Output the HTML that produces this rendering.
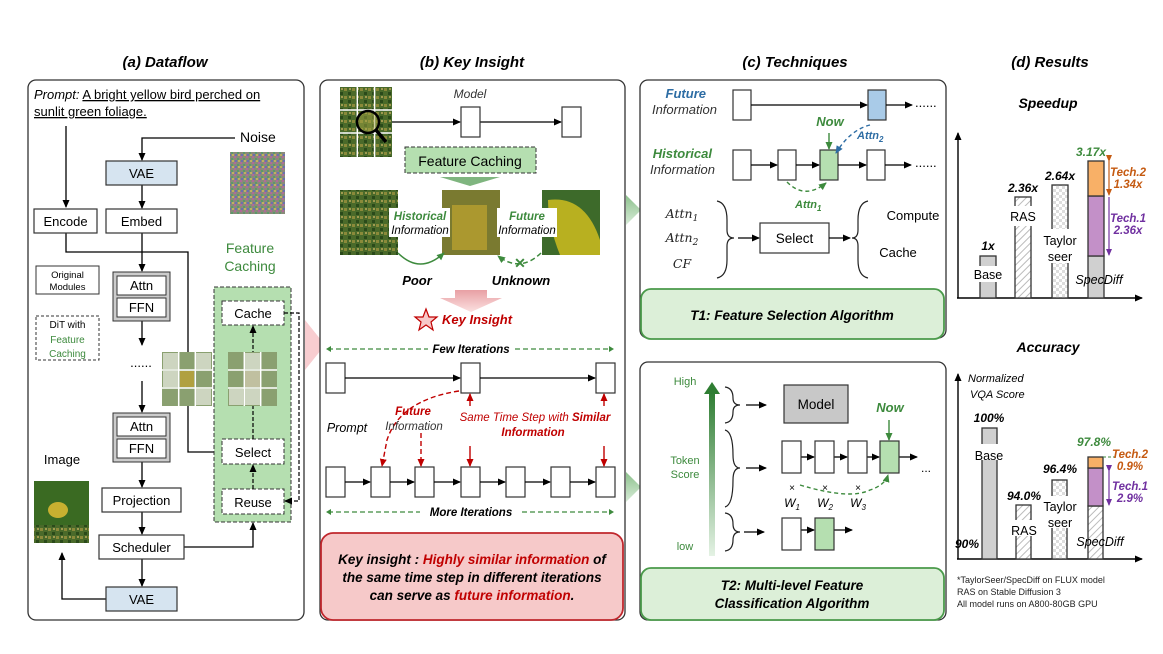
<!DOCTYPE html>
<html><head><meta charset="utf-8"><style>
body{margin:0;background:#fff}
svg{display:block;font-family:"Liberation Sans",Arial,sans-serif}
.t{font-size:13px}
.bi{font-weight:bold;font-style:italic}
</style></head><body>
<svg width="1163" height="654" viewBox="0 0 1163 654" xmlns="http://www.w3.org/2000/svg">
<defs>
<marker id="ar" markerWidth="8" markerHeight="8" refX="7" refY="4" orient="auto" markerUnits="userSpaceOnUse"><path d="M0,0.5 L8,4 L0,7.5z" fill="#000"/></marker>
<marker id="arr" markerWidth="8" markerHeight="8" refX="7" refY="4" orient="auto" markerUnits="userSpaceOnUse"><path d="M0,0.5 L8,4 L0,7.5z" fill="#c00000"/></marker>
<marker id="arg" markerWidth="8" markerHeight="8" refX="7" refY="4" orient="auto" markerUnits="userSpaceOnUse"><path d="M0,0.5 L8,4 L0,7.5z" fill="#3d8a3d"/></marker>
<marker id="arb" markerWidth="8" markerHeight="8" refX="7" refY="4" orient="auto" markerUnits="userSpaceOnUse"><path d="M0,0.5 L8,4 L0,7.5z" fill="#2e6da4"/></marker>
<marker id="arp" markerWidth="7" markerHeight="7" refX="6" refY="3.5" orient="auto" markerUnits="userSpaceOnUse"><path d="M0,0.5 L7,3.5 L0,6.5z" fill="#7030a0"/></marker>
<marker id="aro" markerWidth="7" markerHeight="7" refX="6" refY="3.5" orient="auto" markerUnits="userSpaceOnUse"><path d="M0,0.5 L7,3.5 L0,6.5z" fill="#c55a11"/></marker>
<pattern id="hatch" width="5" height="5" patternUnits="userSpaceOnUse" patternTransform="rotate(45)"><rect width="5" height="5" fill="#fff"/><line x1="0" y1="0" x2="0" y2="5" stroke="#bbb" stroke-width="2"/></pattern>
<pattern id="chk" width="6" height="6" patternUnits="userSpaceOnUse"><rect width="6" height="6" fill="#fff"/><rect width="3" height="3" fill="#ddd"/><rect x="3" y="3" width="3" height="3" fill="#ddd"/></pattern>
<pattern id="noise" width="6" height="6" patternUnits="userSpaceOnUse"><rect width="6" height="6" fill="#8a8a7a"/><rect width="2" height="2" fill="#b06a9a"/><rect x="3" y="2" width="2" height="2" fill="#5a9a6a"/><rect x="1" y="4" width="2" height="2" fill="#6a70b0"/><rect x="4" y="4" width="2" height="2" fill="#c0b060"/></pattern>
<pattern id="leaf" width="8" height="8" patternUnits="userSpaceOnUse"><rect width="8" height="8" fill="#4a6a2a"/><rect width="3" height="3" fill="#8a8a3a"/><rect x="4" y="4" width="3" height="3" fill="#2a4a1a"/><rect x="5" y="0" width="2" height="2" fill="#a09a50"/></pattern>
<linearGradient id="gg" x1="0" y1="1" x2="0" y2="0"><stop offset="0" stop-color="#e4f2e4"/><stop offset="1" stop-color="#2e7d32"/></linearGradient>
<linearGradient id="pk" x1="0" y1="0" x2="0" y2="1"><stop offset="0" stop-color="#e8a0a4"/><stop offset="1" stop-color="#fbe0e0"/></linearGradient>
<linearGradient id="gk" x1="0" y1="0" x2="0" y2="1"><stop offset="0" stop-color="#8cc08c"/><stop offset="1" stop-color="#d8ecd8"/></linearGradient>
</defs>

<g class="bi" font-size="15" text-anchor="middle">
<text x="165" y="67">(a) Dataflow</text>
<text x="472" y="67">(b) Key Insight</text>
<text x="795" y="67">(c) Techniques</text>
<text x="1050" y="67">(d) Results</text>
</g>

<!-- ===== Panel A ===== -->
<rect x="28" y="80" width="276" height="540" rx="8" fill="#fff" stroke="#333" stroke-width="1.3"/>
<text x="34" y="99" font-size="13"><tspan font-style="italic">Prompt:</tspan> <tspan text-decoration="underline">A bright yellow bird perched on</tspan></text>
<text x="34" y="116" font-size="13" text-decoration="underline">sunlit green foliage.</text>
<g stroke="#000" stroke-width="1.3" fill="none">
<line x1="66" y1="126" x2="66" y2="207" marker-end="url(#ar)"/>
<polyline points="235,138 142,138 142,160" marker-end="url(#ar)"/>
<line x1="142" y1="185" x2="142" y2="208" marker-end="url(#ar)"/>
<line x1="142" y1="233" x2="142" y2="271" marker-end="url(#ar)"/>
<polyline points="66,233 66,252 188,252 188,452 222,452"/>
<line x1="142" y1="321" x2="142" y2="345" marker-end="url(#ar)"/>
<line x1="142" y1="381" x2="142" y2="412" marker-end="url(#ar)"/>
<line x1="142" y1="462" x2="142" y2="487" marker-end="url(#ar)"/>
<line x1="142" y1="512" x2="142" y2="534" marker-end="url(#ar)"/>
<line x1="142" y1="559" x2="142" y2="586" marker-end="url(#ar)"/>
<polyline points="106,599 62,599 62,553" marker-end="url(#ar)"/>
<polyline points="184,547 253,547 253,523" marker-end="url(#ar)"/>
</g>
<text x="240" y="142" font-size="14">Noise</text>
<rect x="230" y="152" width="55" height="62" fill="url(#noise)"/>
<rect x="106" y="161" width="71" height="24" fill="#d6e4f0" stroke="#333" stroke-width="1.2"/>
<text x="141.5" y="178" class="t" text-anchor="middle">VAE</text>
<rect x="34" y="209" width="63" height="24" fill="#fff" stroke="#333" stroke-width="1.2"/>
<text x="65.5" y="226" class="t" text-anchor="middle">Encode</text>
<rect x="106" y="209" width="71" height="24" fill="#fff" stroke="#333" stroke-width="1.2"/>
<text x="141.5" y="226" class="t" text-anchor="middle">Embed</text>
<rect x="36" y="266" width="63" height="28" fill="#fff" stroke="#333" stroke-width="1"/>
<text x="67.5" y="278" font-size="9.5" text-anchor="middle">Original</text>
<text x="67.5" y="290" font-size="9.5" text-anchor="middle">Modules</text>
<rect x="36" y="316" width="63" height="44" fill="#fff" stroke="#333" stroke-width="1" stroke-dasharray="3,2"/>
<text x="67.5" y="328" font-size="10" text-anchor="middle">DiT with</text>
<text x="67.5" y="343" font-size="10" text-anchor="middle" fill="#3d8a3d">Feature</text>
<text x="67.5" y="357" font-size="10" text-anchor="middle" fill="#3d8a3d">Caching</text>
<g>
<rect x="113" y="272" width="57" height="49" fill="#ccc" stroke="#333"/>
<rect x="117" y="276" width="49" height="19" fill="#fff" stroke="#333"/>
<rect x="117" y="298" width="49" height="19" fill="#fff" stroke="#333"/>
<text x="141.5" y="290" class="t" text-anchor="middle">Attn</text>
<text x="141.5" y="312" class="t" text-anchor="middle">FFN</text>
<rect x="113" y="413" width="57" height="49" fill="#ccc" stroke="#333"/>
<rect x="117" y="417" width="49" height="19" fill="#fff" stroke="#333"/>
<rect x="117" y="439" width="49" height="19" fill="#fff" stroke="#333"/>
<text x="141.5" y="431" class="t" text-anchor="middle">Attn</text>
<text x="141.5" y="453" class="t" text-anchor="middle">FFN</text>
</g>
<text x="141" y="367" font-size="13" text-anchor="middle">......</text>
<rect x="102" y="488" width="79" height="24" fill="#fff" stroke="#333" stroke-width="1.2"/>
<text x="141.5" y="505" class="t" text-anchor="middle">Projection</text>
<rect x="99" y="535" width="85" height="24" fill="#fff" stroke="#333" stroke-width="1.2"/>
<text x="141.5" y="552" class="t" text-anchor="middle">Scheduler</text>
<rect x="106" y="587" width="71" height="24" fill="#d6e4f0" stroke="#333" stroke-width="1.2"/>
<text x="141.5" y="604" class="t" text-anchor="middle">VAE</text>
<text x="62" y="464" class="t" text-anchor="middle">Image</text>
<rect x="34" y="481" width="55" height="62" fill="#3a6a22"/>
<ellipse cx="58" cy="510" rx="10" ry="8" fill="#c8b030"/>
<rect x="34" y="525" width="55" height="18" fill="url(#leaf)"/>
<text x="250" y="253" font-size="14" text-anchor="middle" fill="#3d8a3d">Feature</text>
<text x="250" y="271" font-size="14" text-anchor="middle" fill="#3d8a3d">Caching</text>
<rect x="214" y="287" width="77" height="235" fill="#b5dfb0" stroke="#333" stroke-dasharray="4,2"/>
<g fill="#fff" stroke="#333" stroke-dasharray="4,2">
<rect x="222" y="301" width="62" height="24"/><rect x="222" y="439" width="62" height="25"/><rect x="222" y="489" width="62" height="25"/>
</g>
<text x="253" y="318" class="t" text-anchor="middle">Cache</text>
<text x="253" y="457" class="t" text-anchor="middle">Select</text>
<text x="253" y="507" class="t" text-anchor="middle">Reuse</text>
<g stroke="#000" stroke-width="1.2" fill="none" stroke-dasharray="4,2">
<polyline points="284,313 299,313 299,501 285,501" marker-end="url(#ar)"/>
<line x1="253" y1="489" x2="253" y2="465" marker-end="url(#ar)"/>
<line x1="253" y1="439" x2="253" y2="326" marker-end="url(#ar)"/>
</g>
<g>
<rect x="162" y="352" width="50" height="54" fill="#8aa070"/>
<rect x="228" y="352" width="49" height="54" fill="#8aa070"/>
<g stroke="#fff" stroke-width="1.5"><line x1="178.7" y1="352" x2="178.7" y2="406"/><line x1="195.3" y1="352" x2="195.3" y2="406"/><line x1="162" y1="370" x2="212" y2="370"/><line x1="162" y1="388" x2="212" y2="388"/>
<line x1="244.3" y1="352" x2="244.3" y2="406"/><line x1="260.7" y1="352" x2="260.7" y2="406"/><line x1="228" y1="370" x2="277" y2="370"/><line x1="228" y1="388" x2="277" y2="388"/></g>
<rect x="163" y="353" width="15" height="16" fill="#cdd5c0"/><rect x="196" y="353" width="15" height="16" fill="#cdd5c0"/><rect x="163" y="371" width="15" height="16" fill="#cdd5c0"/><rect x="196" y="389" width="15" height="16" fill="#cdd5c0"/><rect x="180" y="371" width="14" height="16" fill="#b0a040"/>
<rect x="245" y="353" width="15" height="16" fill="#cdd5c0"/><rect x="229" y="389" width="15" height="16" fill="#cdd5c0"/><rect x="245" y="389" width="15" height="16" fill="#cdd5c0"/><rect x="245" y="371" width="15" height="16" fill="#c0c0a0"/>
</g>
<path d="M305,320 L325,345 L305,370z" fill="#f6c0c4" opacity="0.8"/>

<!-- ===== Panel B ===== -->
<rect x="320" y="80" width="305" height="540" rx="8" fill="#fff" stroke="#333" stroke-width="1.3"/>
<rect x="340" y="87" width="52" height="70" fill="url(#leaf)"/>
<g stroke="#fff" stroke-width="1.5"><line x1="357.3" y1="87" x2="357.3" y2="157"/><line x1="374.6" y1="87" x2="374.6" y2="157"/><line x1="340" y1="110" x2="392" y2="110"/><line x1="340" y1="133" x2="392" y2="133"/></g>
<circle cx="368" cy="122" r="11" fill="#a0a040" fill-opacity="0.5" stroke="#000" stroke-width="2.5"/>
<line x1="376" y1="130" x2="386" y2="142" stroke="#000" stroke-width="3.5"/>
<text x="470" y="98" font-size="12" font-style="italic" text-anchor="middle" fill="#333">Model</text>
<g stroke="#000" stroke-width="1.3"><line x1="392" y1="122" x2="460" y2="122" marker-end="url(#ar)"/><line x1="480" y1="122" x2="561" y2="122" marker-end="url(#ar)"/></g>
<rect x="461" y="107" width="19" height="30" fill="#fff" stroke="#333" stroke-width="1.2"/>
<rect x="562" y="107" width="19" height="30" fill="#fff" stroke="#333" stroke-width="1.2"/>
<rect x="405" y="147" width="131" height="26" fill="#b5dfb0" stroke="#333" stroke-dasharray="4,2"/>
<text x="470" y="166" font-size="14" text-anchor="middle">Feature Caching</text>
<path d="M440,177 L500,177 L470,186z" fill="#7fb57f"/>
<rect x="340" y="190" width="58" height="65" fill="url(#leaf)"/>
<rect x="442" y="190" width="58" height="65" fill="#7a7a30"/><rect x="452" y="205" width="35" height="45" fill="#b8a030" opacity="0.8"/>
<rect x="542" y="190" width="58" height="65" fill="#3d6a2a"/><path d="M548,200 Q585,195 600,240 L600,255 L560,255 Q548,225 548,200z" fill="#b8b020"/>
<rect x="389" y="208" width="61" height="29" fill="#fff"/><rect x="497" y="208" width="60" height="29" fill="#fff"/>
<text x="420" y="220" font-size="11.5" class="bi" fill="#3d8a3d" text-anchor="middle">Historical</text>
<text x="420" y="234" font-size="11.5" font-style="italic" text-anchor="middle">Information</text>
<text x="527" y="220" font-size="11.5" class="bi" fill="#3d8a3d" text-anchor="middle">Future</text>
<text x="527" y="234" font-size="11.5" font-style="italic" text-anchor="middle">Information</text>
<path d="M398,253 Q420,275 444,253" stroke="#3d8a3d" stroke-width="1.5" fill="none" marker-end="url(#arg)"/>
<path d="M541,253 Q520,273 498,256" stroke="#3d8a3d" stroke-width="1.5" fill="none" stroke-dasharray="5,3" marker-end="url(#arg)"/>
<text x="520" y="268" font-size="14" fill="#3d8a3d" text-anchor="middle" font-weight="bold">✕</text>
<text x="417" y="285" font-size="13" class="bi" text-anchor="middle">Poor</text>
<text x="521" y="285" font-size="13" class="bi" text-anchor="middle">Unknown</text>
<path d="M455,290 L487,290 L487,298 L502,298 L471,312 L440,298 L455,298z" fill="url(#pk)"/>
<path d="M426,309 L429,317 L437,317 L431,322 L433,330 L426,325 L419,330 L421,322 L415,317 L423,317z" fill="#f7c8c8" stroke="#c00000" stroke-width="1.2"/>
<text x="442" y="324" font-size="13" class="bi" fill="#c00000">Key Insight</text>
<g stroke="#3d8a3d" stroke-width="1.2" stroke-dasharray="5,3" fill="none">
<line x1="328" y1="349" x2="428" y2="349"/><line x1="515" y1="349" x2="612" y2="349"/>
<line x1="328" y1="512" x2="420" y2="512"/><line x1="522" y1="512" x2="612" y2="512"/>
</g>
<g fill="#3d8a3d"><path d="M326,349 l5,-3 v6z"/><path d="M614,349 l-5,-3 v6z"/><path d="M326,512 l5,-3 v6z"/><path d="M614,512 l-5,-3 v6z"/></g>
<text x="471" y="353" font-size="11.5" class="bi" text-anchor="middle">Few Iterations</text>
<text x="471" y="516" font-size="11.5" class="bi" text-anchor="middle">More Iterations</text>
<g fill="#fff" stroke="#333" stroke-width="1.2">
<rect x="326" y="363" width="19" height="30"/><rect x="461" y="363" width="19" height="30"/><rect x="596" y="363" width="19" height="30"/>
<rect x="326" y="467" width="19" height="30"/><rect x="371" y="467" width="19" height="30"/><rect x="415" y="467" width="19" height="30"/><rect x="461" y="467" width="19" height="30"/><rect x="506" y="467" width="19" height="30"/><rect x="551" y="467" width="19" height="30"/><rect x="596" y="467" width="19" height="30"/>
</g>
<g stroke="#000" stroke-width="1.3">
<line x1="345" y1="378" x2="460" y2="378" marker-end="url(#ar)"/><line x1="480" y1="378" x2="595" y2="378" marker-end="url(#ar)"/>
<line x1="345" y1="482" x2="370" y2="482" marker-end="url(#ar)"/><line x1="390" y1="482" x2="414" y2="482" marker-end="url(#ar)"/><line x1="434" y1="482" x2="460" y2="482" marker-end="url(#ar)"/><line x1="480" y1="482" x2="505" y2="482" marker-end="url(#ar)"/><line x1="525" y1="482" x2="550" y2="482" marker-end="url(#ar)"/><line x1="570" y1="482" x2="595" y2="482" marker-end="url(#ar)"/>
</g>
<g stroke="#c00000" stroke-width="1.4" fill="none">
<path d="M459,391 Q400,400 387,440 L382,466" stroke-dasharray="5,3" marker-end="url(#arr)"/>
<line x1="421" y1="433" x2="421" y2="466" stroke-dasharray="5,3" marker-end="url(#arr)"/>
<line x1="470" y1="406" x2="470" y2="394" marker-end="url(#arr)"/>
<line x1="604" y1="406" x2="604" y2="394" marker-end="url(#arr)"/>
<line x1="470" y1="446" x2="470" y2="466" marker-end="url(#arr)"/>
<line x1="604" y1="446" x2="604" y2="466" marker-end="url(#arr)"/>
</g>
<text x="413" y="415" font-size="11.5" class="bi" fill="#c00000" text-anchor="middle">Future</text>
<text x="414" y="430" font-size="11.5" font-style="italic" fill="#333" text-anchor="middle">Information</text>
<text x="347" y="432" font-size="12.5" font-style="italic" text-anchor="middle">Prompt</text>
<text x="535" y="421" font-size="11.5" font-style="italic" fill="#c00000" text-anchor="middle">Same Time Step with <tspan font-weight="bold">Similar</tspan></text>
<text x="533" y="436" font-size="11.5" class="bi" fill="#c00000" text-anchor="middle">Information</text>
<rect x="321" y="533" width="302" height="87" rx="12" fill="#f6c9c9" stroke="#c0272d" stroke-width="1.8"/>
<g font-size="13.5" class="bi" text-anchor="middle">
<text x="472" y="564">Key insight : <tspan fill="#c00000">Highly similar information</tspan> of</text>
<text x="472" y="582">the same time step in different iterations</text>
<text x="472" y="600">can serve as <tspan fill="#c00000">future information</tspan>.</text>
</g>
<path d="M626,195 L641,210 L626,225z" fill="url(#gk)"/>
<path d="M626,472 L641,487 L626,502z" fill="url(#gk)"/>

<!-- ===== Panel C top ===== -->
<rect x="640" y="80" width="306" height="258" rx="8" fill="#fff" stroke="#333" stroke-width="1.3"/>
<text x="706" y="98" font-size="13" class="bi" fill="#2e6da4" text-anchor="end">Future</text>
<text x="717" y="114" font-size="13" font-style="italic" fill="#333" text-anchor="end">Information</text>
<text x="712" y="158" font-size="13" class="bi" fill="#3d8a3d" text-anchor="end">Historical</text>
<text x="715" y="174" font-size="13" font-style="italic" fill="#333" text-anchor="end">Information</text>
<g stroke="#333" stroke-width="1.2">
<rect x="733" y="90" width="18" height="30" fill="#fff"/><rect x="868" y="90" width="18" height="30" fill="#a9cbe8"/>
<rect x="733" y="150" width="18" height="30" fill="#fff"/><rect x="778" y="150" width="18" height="30" fill="#fff"/><rect x="820" y="150" width="18" height="30" fill="#b5dfb0"/><rect x="867" y="150" width="18" height="30" fill="#fff"/>
</g>
<g stroke="#000" stroke-width="1.3">
<line x1="751" y1="105" x2="867" y2="105" marker-end="url(#ar)"/><line x1="886" y1="105" x2="912" y2="105" marker-end="url(#ar)"/>
<line x1="751" y1="165" x2="777" y2="165" marker-end="url(#ar)"/><line x1="796" y1="165" x2="819" y2="165" marker-end="url(#ar)"/><line x1="838" y1="165" x2="866" y2="165" marker-end="url(#ar)"/><line x1="885" y1="165" x2="911" y2="165" marker-end="url(#ar)"/>
</g>
<text x="915" y="107" font-size="13">......</text><text x="915" y="167" font-size="13">......</text>
<text x="830" y="126" font-size="13" class="bi" fill="#3d8a3d" text-anchor="middle">Now</text>
<line x1="829" y1="133" x2="829" y2="149" stroke="#3d8a3d" stroke-width="1.4" marker-end="url(#arg)"/>
<path d="M870,125 Q850,130 836,153" stroke="#2e6da4" stroke-width="1.4" fill="none" stroke-dasharray="4,3" marker-end="url(#arb)"/>
<text x="857" y="139" font-size="11" class="bi" fill="#2e6da4">Attn<tspan font-size="8" dy="3">2</tspan></text>
<path d="M787,182 Q805,200 826,183" stroke="#3d8a3d" stroke-width="1.4" fill="none" stroke-dasharray="4,3" marker-end="url(#arg)"/>
<text x="795" y="208" font-size="11" class="bi" fill="#3d8a3d">Attn<tspan font-size="8" dy="3">1</tspan></text>
<g font-family="'DejaVu Serif','Liberation Serif',serif" font-style="italic" font-size="12.5" fill="#222">
<text x="682" y="218" text-anchor="middle">Attn<tspan font-size="9" dy="3">1</tspan></text>
<text x="682" y="242" text-anchor="middle">Attn<tspan font-size="9" dy="3">2</tspan></text>
<text x="682" y="268" text-anchor="middle">CF</text>
</g>
<path d="M717,201 Q727,203 727,220 L727,230 Q727,238 734,238 Q727,238 727,246 L727,260 Q727,276 717,278" stroke="#222" stroke-width="1.2" fill="none"/>
<line x1="738" y1="238" x2="759" y2="238" stroke="#000" stroke-width="1.3" marker-end="url(#ar)"/>
<rect x="760" y="223" width="69" height="30" fill="#fff" stroke="#333" stroke-width="1.2"/>
<text x="794.5" y="243" font-size="13.5" text-anchor="middle">Select</text>
<line x1="829" y1="238" x2="850" y2="238" stroke="#000" stroke-width="1.3" marker-end="url(#ar)"/>
<path d="M868,201 Q858,203 858,220 L858,230 Q858,238 852,238 Q858,238 858,246 L858,260 Q858,276 868,278" stroke="#222" stroke-width="1.2" fill="none"/>
<text x="913" y="220" font-size="13" text-anchor="middle">Compute</text>
<text x="898" y="257" font-size="13" text-anchor="middle">Cache</text>
<rect x="641" y="289" width="303" height="50" rx="10" fill="#dcefd8" stroke="#4a9a4a" stroke-width="1.8"/>
<text x="792" y="320" font-size="13.5" class="bi" text-anchor="middle">T1: Feature Selection Algorithm</text>

<!-- ===== Panel C bottom ===== -->
<rect x="640" y="362" width="306" height="258" rx="8" fill="#fff" stroke="#333" stroke-width="1.3"/>
<rect x="709" y="392" width="6" height="164" fill="url(#gg)"/>
<path d="M704,394 L712,382 L720,394z" fill="#2e7d32"/>
<text x="685" y="385" font-size="11" fill="#3d8a3d" text-anchor="middle">High</text>
<text x="685" y="464" font-size="11" fill="#3d8a3d" text-anchor="middle">Token</text>
<text x="685" y="478" font-size="11" fill="#3d8a3d" text-anchor="middle">Score</text>
<text x="685" y="550" font-size="11" fill="#3d8a3d" text-anchor="middle">low</text>
<g stroke="#222" stroke-width="1.2" fill="none">
<path d="M725,387 Q733,388 733,398 Q733,405 740,405 Q733,405 733,412 Q733,422 725,423"/>
<path d="M725,430 Q733,432 733,455 Q733,468 740,468 Q733,468 733,480 Q733,505 725,507"/>
<path d="M725,513 Q733,514 733,524 Q733,532 740,532 Q733,532 733,540 Q733,550 725,551"/>
</g>
<g stroke="#000" stroke-width="1.3">
<line x1="746" y1="405" x2="766" y2="405" marker-end="url(#ar)"/>
<line x1="746" y1="468" x2="766" y2="468" marker-end="url(#ar)"/>
<line x1="744" y1="532" x2="764" y2="532" marker-end="url(#ar)"/>
<line x1="801" y1="457" x2="814" y2="457" marker-end="url(#ar)"/><line x1="834" y1="457" x2="847" y2="457" marker-end="url(#ar)"/><line x1="867" y1="457" x2="879" y2="457" marker-end="url(#ar)"/><line x1="899" y1="457" x2="917" y2="457" marker-end="url(#ar)"/>
<line x1="801" y1="530" x2="814" y2="530" marker-end="url(#ar)"/><line x1="834" y1="530" x2="852" y2="530" marker-end="url(#ar)"/>
</g>
<rect x="784" y="385" width="64" height="38" fill="#c8c8c8" stroke="#333" stroke-width="1.2"/>
<text x="816" y="409" font-size="13.5" text-anchor="middle">Model</text>
<g stroke="#333" stroke-width="1.2">
<rect x="782" y="441" width="19" height="32" fill="#fff"/><rect x="815" y="441" width="19" height="32" fill="#fff"/><rect x="848" y="441" width="19" height="32" fill="#fff"/><rect x="880" y="441" width="19" height="32" fill="#b5dfb0"/>
<rect x="782" y="518" width="19" height="32" fill="#fff"/><rect x="815" y="518" width="19" height="32" fill="#b5dfb0"/>
</g>
<text x="921" y="472" font-size="12">...</text>
<text x="890" y="412" font-size="13" class="bi" fill="#3d8a3d" text-anchor="middle">Now</text>
<line x1="889" y1="420" x2="889" y2="440" stroke="#3d8a3d" stroke-width="1.4" marker-end="url(#arg)"/>
<path d="M800,485 Q850,500 870,490 Q885,485 888,475" stroke="#3d8a3d" stroke-width="1.4" fill="none" stroke-dasharray="4,3" marker-end="url(#arg)"/>
<g font-size="10" text-anchor="middle"><text x="792" y="491">×</text><text x="825" y="491">×</text><text x="858" y="491">×</text></g>
<g font-size="12" font-style="italic" text-anchor="middle"><text x="792" y="507">W<tspan font-size="8" dy="3">1</tspan></text><text x="825" y="507">W<tspan font-size="8" dy="3">2</tspan></text><text x="858" y="507">W<tspan font-size="8" dy="3">3</tspan></text></g>
<rect x="641" y="568" width="303" height="52" rx="10" fill="#dcefd8" stroke="#4a9a4a" stroke-width="1.8"/>
<text x="792" y="590" font-size="13.5" class="bi" text-anchor="middle">T2: Multi-level Feature</text>
<text x="792" y="608" font-size="13.5" class="bi" text-anchor="middle">Classification Algorithm</text>

<!-- ===== Panel D ===== -->
<text x="1048" y="108" font-size="14" class="bi" text-anchor="middle">Speedup</text>
<g stroke="#000" stroke-width="1.4">
<line x1="958" y1="298" x2="958" y2="133" marker-end="url(#ar)"/>
<line x1="957" y1="298" x2="1142" y2="298" marker-end="url(#ar)"/>
</g>
<g stroke="#333" stroke-width="1.3">
<rect x="980" y="256" width="16" height="42" fill="#d0d0d0"/>
<rect x="1015" y="197" width="16" height="101" fill="url(#hatch)"/>
<rect x="1052" y="185" width="16" height="113" fill="url(#chk)"/>
<rect x="1088" y="256" width="16" height="42" fill="#d0d0d0"/>
<rect x="1088" y="196" width="16" height="60" fill="#c390c8"/>
<rect x="1088" y="161" width="16" height="35" fill="#f8b067"/>
</g>
<rect x="1008" y="206" width="30" height="20" fill="#fff"/><rect x="1041" y="229" width="40" height="34" fill="#fff"/><rect x="972" y="266" width="32" height="16" fill="#fff"/>
<g font-size="12" class="bi" text-anchor="middle"><text x="988" y="250">1x</text><text x="1023" y="192">2.36x</text><text x="1060" y="180">2.64x</text></g>
<text x="1091" y="156" font-size="12" class="bi" fill="#3d8a3d" text-anchor="middle">3.17x</text>
<g font-size="12.5" text-anchor="middle"><text x="988" y="279">Base</text><text x="1023" y="221">RAS</text><text x="1060" y="245">Taylor</text><text x="1060" y="261">seer</text></g>
<text x="1099" y="284" font-size="12.5" font-style="italic" text-anchor="middle">SpecDiff</text>
<line x1="1109" y1="161" x2="1109" y2="195" stroke="#c55a11" stroke-width="1.2" marker-end="url(#aro)" marker-start="url(#aro)"/>
<line x1="1109" y1="197" x2="1109" y2="255" stroke="#7030a0" stroke-width="1.2" marker-end="url(#arp)"/>
<g font-size="11.5" class="bi" text-anchor="middle"><text x="1128" y="176" fill="#c55a11">Tech.2</text><text x="1128" y="188" fill="#c55a11">1.34x</text><text x="1128" y="222" fill="#7030a0">Tech.1</text><text x="1128" y="234" fill="#7030a0">2.36x</text></g>

<text x="1048" y="352" font-size="14" class="bi" text-anchor="middle">Accuracy</text>
<g stroke="#000" stroke-width="1.4">
<line x1="958" y1="559" x2="958" y2="374" marker-end="url(#ar)"/>
<line x1="957" y1="559" x2="1142" y2="559" marker-end="url(#ar)"/>
</g>
<text x="968" y="382" font-size="11" font-style="italic">Normalized</text>
<text x="970" y="398" font-size="11" font-style="italic">VQA Score</text>
<g stroke="#333" stroke-width="1.3">
<rect x="982" y="428" width="15" height="131" fill="#d0d0d0"/>
<rect x="1016" y="505" width="15" height="54" fill="url(#hatch)"/>
<rect x="1052" y="480" width="15" height="79" fill="url(#chk)"/>
<rect x="1088" y="506" width="15" height="53" fill="url(#hatch)"/>
<rect x="1088" y="468" width="15" height="38" fill="#c390c8"/>
<rect x="1088" y="457" width="15" height="11" fill="#f8b067"/>
</g>
<rect x="972" y="444" width="34" height="16" fill="#fff"/><rect x="1010" y="520" width="28" height="16" fill="#fff"/><rect x="1042" y="496" width="40" height="32" fill="#fff"/>
<g font-size="12" class="bi" text-anchor="middle"><text x="989" y="422">100%</text><text x="1024" y="500">94.0%</text><text x="1060" y="473">96.4%</text><text x="967" y="548">90%</text></g>
<text x="1094" y="446" font-size="12" class="bi" fill="#3d8a3d" text-anchor="middle">97.8%</text>
<g font-size="12.5" text-anchor="middle"><text x="989" y="460">Base</text><text x="1024" y="535">RAS</text><text x="1060" y="511">Taylor</text><text x="1060" y="527">seer</text></g>
<text x="1100" y="546" font-size="12.5" font-style="italic" text-anchor="middle">SpecDiff</text>
<line x1="1103" y1="457" x2="1115" y2="457" stroke="#3d8a3d" stroke-dasharray="3,2"/>
<line x1="1109" y1="471" x2="1109" y2="505" stroke="#7030a0" stroke-width="1.2" marker-end="url(#arp)" marker-start="url(#arp)"/>
<g font-size="11.5" class="bi" text-anchor="middle"><text x="1130" y="458" fill="#c55a11">Tech.2</text><text x="1130" y="470" fill="#c55a11">0.9%</text><text x="1130" y="490" fill="#7030a0">Tech.1</text><text x="1130" y="502" fill="#7030a0">2.9%</text></g>
<g font-size="9" fill="#222"><text x="957" y="583">*TaylorSeer/SpecDiff on FLUX model</text><text x="957" y="595">RAS on Stable Diffusion 3</text><text x="957" y="607">All model runs on A800-80GB GPU</text></g>
</svg>
</body></html>
